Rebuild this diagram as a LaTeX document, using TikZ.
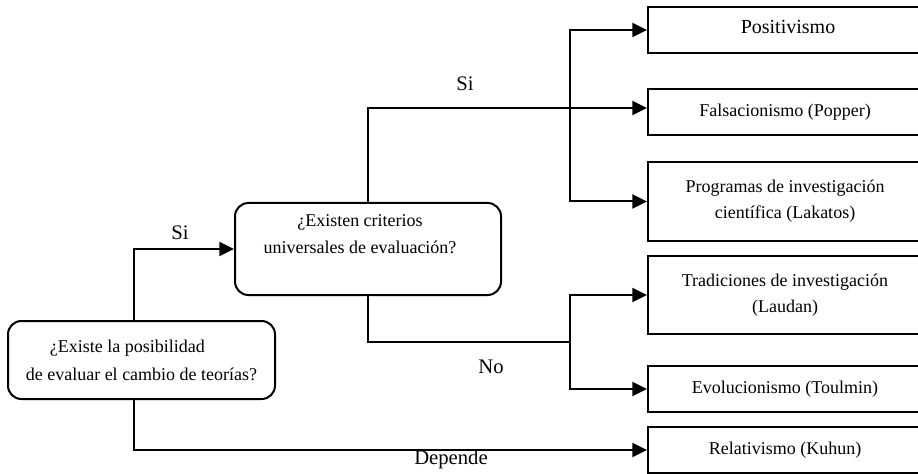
\documentclass[tikz,border=0pt]{standalone}
\usepackage{fontspec}
\setmainfont{Liberation Serif}
\usetikzlibrary{arrows.meta,calc}
\begin{document}
\begin{tikzpicture}[x=0.75pt,y=-0.75pt,
  every node/.style={font=\fontsize{13.5}{21}\selectfont, inner sep=0pt},
  rbox/.style={draw, line width=1.5pt, rounded corners=10pt},
  sbox/.style={draw, line width=1.5pt, align=center, minimum width=205.5pt, font=\fontsize{13.5}{19.5}\selectfont},
  conn/.style={line width=1.5pt, -{Triangle[length=11pt,width=10.5pt]}},
  plain/.style={line width=1.5pt},
  lbl/.style={font=\fontsize{15.5}{18}\selectfont}]
\useasboundingbox (0,0) rectangle (918,474);
% boxes
\node[rbox, align=left, minimum width=200.25pt, minimum height=58.5pt] (L) at (141.5,360)
  {\hspace*{18pt}¿Existe la posibilidad\\de evaluar el cambio de teorías?};
\node[rbox, minimum width=199.5pt, minimum height=69pt] (M) at (368,249) {};
\node[align=center, font=\fontsize{13.5}{20}\selectfont] (Mt) at (360,234)
  {¿Existen criterios\\universales de evaluación?};
\node[sbox, minimum height=34.5pt] (P1) at (785,30) {};
\node[font=\fontsize{15}{18}\selectfont] (P1t) at (788,27) {Positivismo};
\node[sbox, minimum height=34.5pt] (P2) at (785,112) {Falsacionismo (Popper)};
\node[sbox, minimum height=59.25pt] (P3) at (785,201.5) {Programas de investigación\\científica (Lakatos)};
\node[sbox, minimum height=58.5pt] (P4) at (785,295) {Tradiciones de investigación\\(Laudan)};
\node[sbox, minimum height=34.5pt] (P5) at (785,389) {Evolucionismo (Toulmin)};
\node[sbox, minimum height=34.5pt] (P6) at (785,450) {Relativismo (Kuhun)};
% labels
\node[lbl] (si1) at (465,84) {Si};
\node[lbl] (si2) at (180,233) {Si};
\node[lbl] (no) at (491,367) {No};
\node[lbl] (dep) at (451,460) {Depende};
% connectors
\coordinate (x1) at (134,0);
\draw[conn] (L.north -| x1) |- (M.west);
\draw[conn] (L.south -| x1) |- (P6.west);
\coordinate (s) at (570,108);
\draw[conn] (M.north) |- ($(P2.west)+(0,-4)$);
\draw[conn] (s) |- (P1.west);
\draw[conn] (s) |- (P3.west);
\coordinate (n) at (570,342);
\draw[plain] (M.south) |- (n);
\draw[conn] (n) |- (P4.west);
\draw[conn] (n) |- (P5.west);
\end{tikzpicture}
\end{document}
